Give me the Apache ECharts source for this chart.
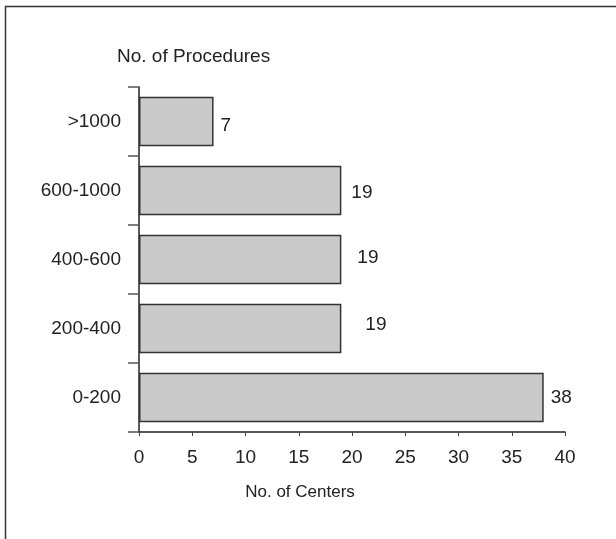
<!DOCTYPE html>
<html>
<head>
<meta charset="utf-8">
<script src="https://cdn.jsdelivr.net/npm/echarts@6/dist/echarts.min.js"></script>
<style>
  html, body { margin: 0; padding: 0; background: #fff; }
  #chart { width: 616px; height: 539px; }
</style>
</head>
<body>
<div id="chart"></div>
<script>
  // categories, bottom to top
  var procedures = ['0-200', '200-400', '400-600', '600-1000', '>1000'];
  var centers = [38, 19, 19, 19, 7];
  var xTicks = [0, 5, 10, 15, 20, 25, 30, 35, 40];

  var font = '"Liberation Sans", Arial, sans-serif';
  // label nudges to sit like the original
  var labelShift = [[0, 0], [17, -4], [9, -2], [3, 2], [0, 4]];

  var myChart = echarts.init(document.getElementById('chart'));
  var option = {
    animation: false,
    backgroundColor: '#fff',
    textStyle: { fontFamily: font, color: '#222' },
    title: {
      text: 'No. of Procedures',
      left: 112,
      top: 42,
      textStyle: { fontSize: 19, fontWeight: 'normal', color: '#222', fontFamily: font }
    },
    graphic: [{
      type: 'polyline',
      shape: { points: [[5.5, 539], [5.5, 6.5], [616, 6.5]] },
      style: { stroke: '#333', lineWidth: 1.5, fill: null }
    }],
    grid: { left: 139, right: 51, top: 87, bottom: 107 },
    xAxis: {
      type: 'value',
      min: xTicks[0],
      max: xTicks[xTicks.length - 1],
      interval: 5,
      name: 'No. of Centers',
      nameLocation: 'middle',
      nameGap: 52,
      nameTextStyle: { fontSize: 17, color: '#222', fontFamily: font, padding: [0, 104, 0, 0] },
      axisLine: { show: true, lineStyle: { color: '#222', width: 1.5 } },
      axisTick: { show: true, length: 4, lineStyle: { color: '#444' } },
      axisLabel: { fontSize: 19, color: '#222', margin: 16, fontFamily: font },
      splitLine: { show: false }
    },
    yAxis: {
      type: 'category',
      data: procedures,
      axisLine: { show: true, lineStyle: { color: '#222', width: 1.5 } },
      axisTick: { show: true, length: 11, lineStyle: { color: '#555', width: 1.5 } },
      axisLabel: { fontSize: 19, color: '#222', margin: 18, fontFamily: font },
      splitLine: { show: false }
    },
    series: [{
      type: 'bar',
      barCategoryGap: '28%',
      data: centers.map(function (v, i) {
        return { value: v, label: { offset: labelShift[i] } };
      }),
      itemStyle: { color: '#cacaca', borderColor: '#333', borderWidth: 1.5 },
      label: {
        show: true,
        position: 'right',
        distance: 7,
        fontSize: 19,
        color: '#222',
        fontFamily: font
      }
    }]
  };
  myChart.setOption(option);
</script>
</body>
</html>
